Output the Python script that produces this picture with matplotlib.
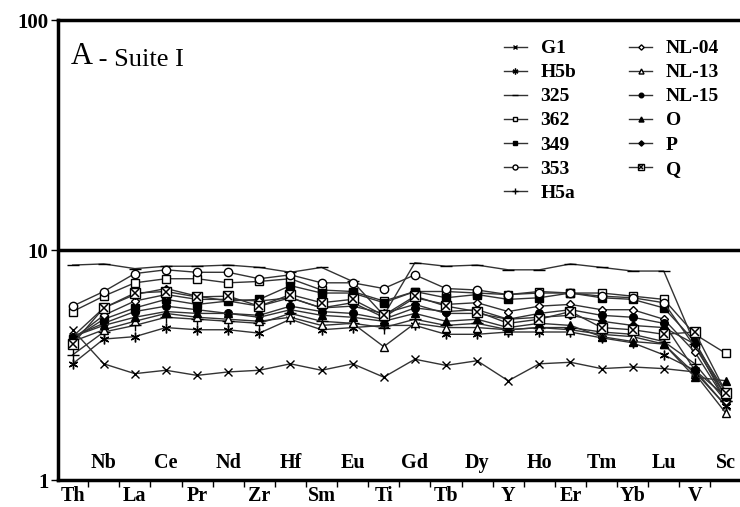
import matplotlib.pyplot as plt
from matplotlib.legend_handler import HandlerTuple
from matplotlib.lines import Line2D

elements = ["Th", "Nb", "La", "Ce", "Pr", "Nd", "Zr", "Hf", "Sm", "Eu", "Ti",
            "Gd", "Tb", "Dy", "Y", "Ho", "Er", "Tm", "Yb", "Lu", "V", "Sc"]

g1 = [4.5, 3.2, 2.9, 3.0, 2.85, 2.95, 3.0, 3.2, 3.0, 3.2, 2.8,
      3.35, 3.15, 3.3, 2.7, 3.2, 3.25, 3.05, 3.1, 3.05, 2.95, 2.1]
h5b = [3.2, 4.1, 4.2, 4.6, 4.5, 4.5, 4.35, 5.0, 4.5, 4.6, 4.7,
       4.7, 4.3, 4.3, 4.4, 4.4, 4.4, 4.15, 3.95, 3.5, 3.0, 2.1]
s325 = [8.6, 8.7, 8.3, 8.5, 8.5, 8.6, 8.4, 8.0, 8.4, 7.3, 5.2,
        8.8, 8.5, 8.6, 8.2, 8.2, 8.7, 8.4, 8.1, 8.1, 3.9, 2.2]
s362 = [5.4, 6.3, 7.2, 7.5, 7.5, 7.2, 7.3, 7.5, 6.7, 6.6, 6.0,
        6.6, 6.6, 6.5, 6.4, 6.6, 6.5, 6.5, 6.3, 6.1, 4.3, 3.55]
s349 = [4.1, 5.0, 5.6, 6.1, 5.8, 6.0, 6.1, 7.0, 6.5, 6.5, 5.9,
        6.6, 6.2, 6.4, 6.1, 6.2, 6.5, 6.2, 6.1, 5.6, 4.0, 2.3]
s353 = [5.7, 6.6, 7.9, 8.2, 8.0, 8.0, 7.5, 7.8, 7.2, 7.2, 6.8,
        7.8, 6.8, 6.7, 6.4, 6.5, 6.5, 6.3, 6.2, 5.9, 3.8, 2.3]
h5a = [3.5, 4.4, 4.7, 5.1, 5.0, 4.9, 4.8, 5.3, 4.9, 4.8, 4.6,
       5.0, 4.7, 4.8, 4.5, 4.6, 4.6, 4.4, 4.3, 4.0, 3.2, 2.2]
nl04 = [4.1, 5.2, 6.0, 6.4, 6.1, 6.1, 6.0, 6.2, 5.6, 5.9, 5.1,
        6.2, 5.8, 5.9, 5.4, 5.7, 5.8, 5.5, 5.5, 5.0, 3.6, 2.2]
nl13 = [4.0, 4.5, 4.9, 5.3, 5.1, 5.0, 4.9, 5.1, 4.7, 4.8, 3.8,
        4.8, 4.6, 4.6, 4.5, 4.6, 4.5, 4.3, 4.2, 3.9, 2.9, 1.95]
nl15 = [4.2, 4.8, 5.4, 5.7, 5.5, 5.3, 5.2, 5.7, 5.4, 5.3, 5.0,
        5.6, 5.4, 5.5, 5.0, 5.3, 5.5, 5.2, 5.1, 4.8, 3.0, 2.3]
o = [4.2, 4.7, 5.1, 5.4, 5.3, 5.3, 5.1, 5.5, 5.2, 5.1, 4.9,
     5.3, 4.9, 5.0, 4.6, 4.8, 4.7, 4.2, 4.0, 3.9, 2.8, 2.7]
p = [4.2, 5.6, 6.4, 6.8, 6.3, 6.0, 5.7, 6.2, 5.6, 5.7, 5.3,
     5.8, 5.3, 5.3, 5.0, 5.1, 5.2, 4.9, 4.7, 4.6, 3.9, 2.4]
q = [3.9, 5.6, 6.5, 6.6, 6.25, 6.3, 5.7, 6.4, 5.9, 6.1, 5.2,
     6.3, 5.7, 5.4, 4.8, 5.0, 5.4, 4.6, 4.5, 4.3, 4.4, 2.4]

asterisk = (6, 2, 0)
series = [
    ("G1", g1, "x", "none", 6),
    ("H5b", h5b, asterisk, "k", 7),
    ("325", s325, "_", "k", 8),
    ("362", s362, "s", "white", 6),
    ("349", s349, "s", "k", 6),
    ("353", s353, "o", "white", 6),
    ("H5a", h5a, "+", "k", 8),
    ("NL-04", nl04, "D", "white", 4.5),
    ("NL-13", nl13, "^", "white", 6),
    ("NL-15", nl15, "o", "k", 5.5),
    ("O", o, "^", "k", 6),
    ("P", p, "D", "k", 4.5),
]

plt.rcParams['font.family'] = ['Liberation Serif', 'DejaVu Serif']

fig = plt.figure(figsize=(7.4, 5.07), dpi=100)
ax = fig.add_axes([58 / 740, 27 / 507, 1 - 58 / 740, 460 / 507])

x = list(range(len(elements)))
handles = []
labels = []
for name, vals, mk, fc, ms in series:
    ln, = ax.plot(x, vals, color="#333333", lw=1.0, marker=mk, ms=ms,
                  mfc=fc, mec="k", mew=1.0)
    handles.append(ln)
    labels.append(name)

# Q: square with a cross inside
ax.plot(x, q, color="#333333", lw=1.0, marker="s", ms=7, mfc="white", mec="k", mew=1.0)
ax.plot(x, q, ls="none", marker="x", ms=6, mec="k", mew=1.1)
qh = (Line2D([], [], color="#333333", lw=1.0, marker="s", ms=7, mfc="white", mec="k"),
      Line2D([], [], ls="none", marker="x", ms=6, mec="k", mew=1.1))
handles.append(qh)
labels.append("Q")

ax.set_yscale("log")
ax.set_ylim(1, 100)
ax.set_xlim(-0.47, 21.45)
ax.axhline(10, color="k", lw=2.5)

for s in ["left", "top", "bottom"]:
    ax.spines[s].set_linewidth(2.5)
ax.spines["right"].set_visible(False)

ax.set_yticks([1, 10, 100])
ax.set_yticklabels(["1", "10", "100"], fontsize=15, fontweight="bold")
ax.yaxis.set_minor_locator(plt.NullLocator())
ax.tick_params(axis="y", length=5, width=1, direction="out", pad=2)

ax.set_xticks([i + 0.5 for i in range(len(elements) - 1)])
ax.set_xticklabels([])
ax.tick_params(axis="x", length=5, width=1, direction="out")

trans = ax.get_xaxis_transform()
for i, el in enumerate(elements):
    if i % 2 == 0:
        ax.text(i, -0.013, el, transform=trans, ha="center", va="top",
                fontsize=14.5, fontweight="bold")
    else:
        ax.text(i, 0.016, el, transform=trans, ha="center", va="bottom",
                fontsize=14.5, fontweight="bold")

t = ax.text(0.018, 0.905, "A", transform=ax.transAxes, fontsize=22, va="baseline")
ax.annotate(" - Suite I", xycoords=t, xy=(1, 0), va="bottom", fontsize=19)

ax.legend(handles, labels, ncol=2, loc="upper right", frameon=False,
          bbox_to_anchor=(0.995, 0.995), prop={"size": 14, "weight": "bold"},
          handlelength=1.2, markerscale=0.6, labelspacing=0.33,
          columnspacing=2.7, handletextpad=0.7,
          handler_map={tuple: HandlerTuple(ndivide=1, pad=0)})

fig.savefig("out.png", dpi=100)
